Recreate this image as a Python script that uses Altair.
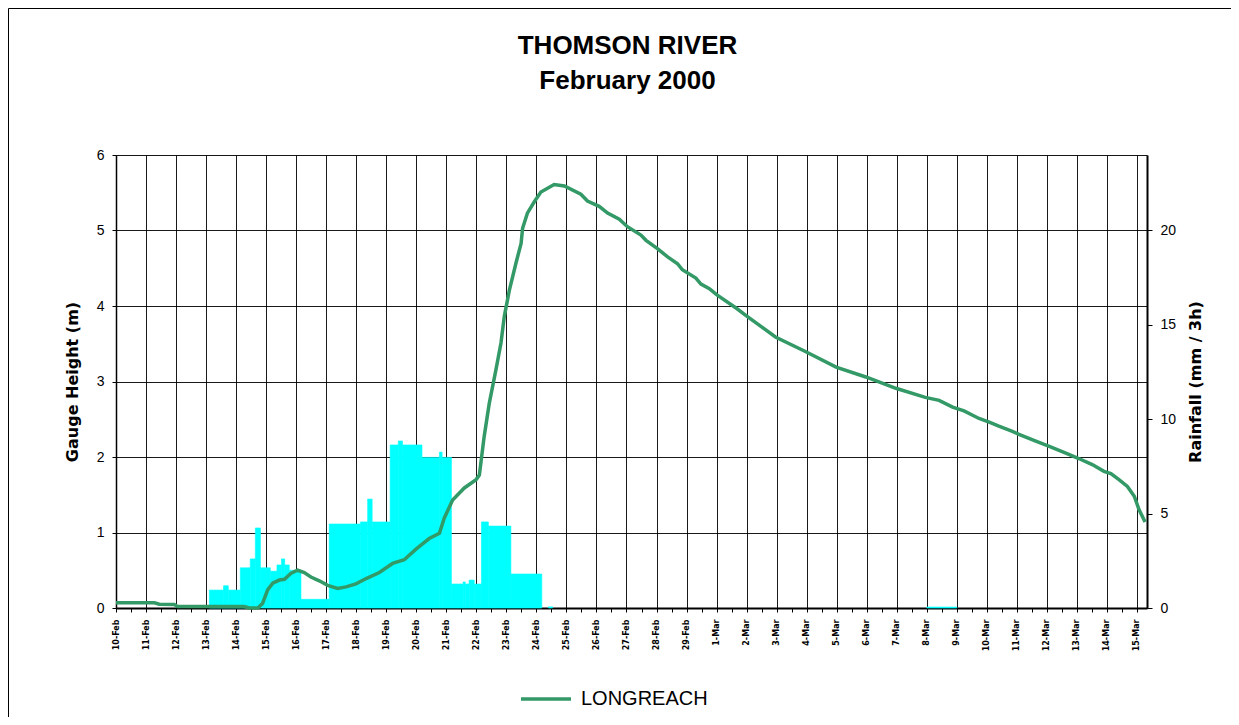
import altair as alt
import pandas as pd

# ---------------- data ----------------
# gauge height at LONGREACH: time in days after 10-Feb-2000 00:00, height in m
line_days = [0.0, 1.28, 1.44, 1.94, 2.05, 4.27, 4.44, 4.72, 4.88, 5.05, 5.22, 5.44,
             5.61, 5.83, 6.05, 6.27, 6.49, 6.77, 7.05, 7.38, 7.66, 7.99, 8.33, 8.77,
             9.21, 9.60, 9.99, 10.43, 10.77, 10.93, 11.21, 11.60, 11.99, 12.10, 12.26,
             12.43, 12.65, 12.82, 12.93, 13.10, 13.32, 13.49, 13.54, 13.70, 13.93, 14.15,
             14.59, 14.93, 15.48, 15.70, 16.09, 16.37, 16.76, 17.03, 17.48, 17.65, 18.03,
             18.37, 18.70, 18.86, 19.31, 19.48, 19.76, 20.00, 20.66, 20.96, 21.96, 22.94,
             23.98, 24.97, 25.97, 26.95, 27.41, 27.86, 28.24, 28.74, 29.10, 29.40, 29.85,
             30.07, 30.63, 31.08, 31.63, 32.06, 32.51, 32.90, 33.13, 33.40, 33.68, 33.91,
             34.07, 34.27]
line_height = [0.07, 0.07, 0.05, 0.045, 0.02, 0.02, 0.0, 0.0, 0.06, 0.24, 0.33, 0.37,
               0.38, 0.46, 0.50, 0.47, 0.41, 0.36, 0.30, 0.26, 0.28, 0.32, 0.39, 0.47,
               0.59, 0.64, 0.78, 0.92, 0.99, 1.19, 1.43, 1.59, 1.70, 1.76, 2.27,
               2.71, 3.15, 3.51, 3.86, 4.21, 4.57, 4.83, 5.03, 5.23, 5.38, 5.51,
               5.61, 5.59, 5.48, 5.39, 5.32, 5.23, 5.15, 5.05, 4.94, 4.87, 4.76,
               4.65, 4.56, 4.48, 4.37, 4.29, 4.23, 4.15, 3.97, 3.88, 3.59, 3.40,
               3.19, 3.06, 2.91, 2.79, 2.75, 2.66, 2.61, 2.51, 2.46, 2.41, 2.34,
               2.30, 2.21, 2.14, 2.05, 1.98, 1.90, 1.81, 1.78, 1.70, 1.61, 1.48,
               1.30, 1.14]

# rainfall blocks: start / end (days after 10-Feb-2000), rainfall mm / 3h
rain_start = [3.11, 3.58, 3.74, 4.14, 4.47, 4.64, 4.81, 5.14, 5.36, 5.51, 5.62, 5.77,
              6.16, 7.10, 8.14, 8.38, 8.53, 9.13, 9.40, 9.54, 10.19, 10.77, 10.86,
              11.17, 11.56, 11.63, 11.76, 11.93, 12.17, 12.40, 13.15, 14.40, 27.0]
rain_end = [3.58, 3.74, 4.14, 4.47, 4.64, 4.81, 5.14, 5.36, 5.51, 5.62, 5.77, 6.16,
            7.10, 8.14, 8.38, 8.53, 9.13, 9.40, 9.54, 10.19, 10.77, 10.86, 11.17,
            11.56, 11.63, 11.76, 11.93, 12.17, 12.40, 13.15, 14.18, 14.54, 28.0]
rain_mm = [0.95, 1.18, 0.95, 2.13, 2.6, 4.24, 2.13, 1.95, 2.28, 2.6, 2.28, 2.0,
           0.46, 4.45, 4.56, 5.77, 4.56, 8.64, 8.85, 8.64, 7.98, 8.26, 7.98,
           1.27, 1.38, 1.27, 1.48, 1.27, 4.56, 4.34, 1.8, 0.06, 0.05]

series_name = "LONGREACH"
title_lines = ["THOMSON RIVER", "February 2000"]

# ---------------- tables ----------------
BASE = pd.Timestamp("2000-02-10T00:00:00", tz="UTC")


def iso(d):
    return (BASE + pd.to_timedelta(d, unit="D")).strftime("%Y-%m-%dT%H:%M:%SZ")


line_df = pd.DataFrame({
    "time": [iso(d) for d in line_days],
    "height": line_height,
    "series": series_name,
})
rain_df = pd.DataFrame({
    "start": [iso(d) for d in rain_start],
    "end": [iso(d) for d in rain_end],
    "mm": rain_mm,
})

base_ms = int(BASE.value // 1_000_000)
tick_values = [base_ms + i * 43_200_000 for i in range(69)]  # every 12 hours

x_scale = alt.Scale(
    type="utc",
    domain=[alt.DateTime(year=2000, month=2, date=10, utc=True),
            alt.DateTime(year=2000, month=3, date=15, hours=8, utc=True)],
)
x_axis = alt.Axis(
    values=tick_values,
    labelExpr="utchours(datum.value) == 0 ? utcFormat(datum.value, '%-d-%b') : ''",
    labelAngle=270, labelAlign="right", labelBaseline="middle",
    labelFont="DejaVu Sans", labelFontWeight="bold", labelFontSize=8,
    labelColor="black", labelPadding=7, labelOverlap=False, labelBound=False,
    labelFlush=False,
    tickSize=4, tickColor="black", domainColor="black", domainWidth=2,
    grid=True, gridColor="black", gridWidth=1,
    gridOpacity={"condition": {"test": "utchours(datum.value) != 0", "value": 0}, "value": 0.9},
    title=None, zindex=0,
)

bars = alt.Chart(rain_df).mark_rect(color="#00FFFF", stroke="#00FFFF", strokeWidth=0.6).encode(
    x=alt.X("start:T", scale=x_scale, axis=x_axis),
    x2="end:T",
    y=alt.Y("mm:Q",
            scale=alt.Scale(domain=[0, 24], nice=False),
            axis=alt.Axis(orient="right", values=[0, 5, 10, 15, 20], grid=False,
                          title="Rainfall (mm / 3h)", titleAngle=270, titleBaseline="top",
                          titleFont="DejaVu Sans", titleFontSize=16, titleFontWeight="bold",
                          titleColor="black", titlePadding=12,
                          labelFont="Liberation Sans", labelFontSize=14, labelColor="black",
                          labelPadding=8, tickSize=5, tickColor="black",
                          domainColor="black", domainWidth=2, zindex=0)),
    y2=alt.Y2(datum=0),
)

line = alt.Chart(line_df).mark_line(strokeWidth=3.5, interpolate="linear").encode(
    x=alt.X("time:T", scale=x_scale, axis=x_axis),
    y=alt.Y("height:Q",
            scale=alt.Scale(domain=[0, 6], nice=False),
            axis=alt.Axis(orient="left", values=[0, 1, 2, 3, 4, 5, 6],
                          title="Gauge Height (m)", titleFont="DejaVu Sans",
                          titleFontSize=16, titleFontWeight="bold", titleColor="black",
                          titlePadding=16,
                          labelFont="Liberation Sans", labelFontSize=14, labelColor="black",
                          labelPadding=8, tickSize=4, tickColor="black",
                          grid=True, gridColor="black", gridWidth=1, gridOpacity=0.9,
                          domainColor="black", domainWidth=1.5, zindex=0)),
    color=alt.Color("series:N",
                    scale=alt.Scale(domain=[series_name], range=["#339966"]),
                    legend=alt.Legend(title=None, orient="none", legendX=403, legendY=517,
                                      symbolType="stroke", symbolSize=2500,
                                      symbolStrokeWidth=3.5,
                                      labelFont="Liberation Sans", labelFontSize=20,
                                      labelColor="black", labelOffset=8, padding=0)),
)

# chart-area frame (top and left edges, as in the reference crop)
frame_src = alt.Chart(alt.Data(values=[{"k": 1}])).mark_rule(color="black", strokeWidth=1, clip=False)
frame_top = frame_src.encode(x=alt.value(-107.5), x2=alt.value(1115), y=alt.value(-146.5))
frame_left = frame_src.encode(x=alt.value(-107.5), y=alt.value(-146.5), y2=alt.value(562))

chart = alt.layer(bars, line, frame_top, frame_left).resolve_scale(
    y="independent"
).properties(
    width=1031,
    height=453,
    autosize=alt.AutoSizeParams(type="none"),
    padding={"left": 108, "top": 147, "right": 84, "bottom": 109},
    title=alt.TitleParams(text=title_lines, font="Liberation Sans", fontSize=26,
                          fontWeight="bold", color="black", lineHeight=35,
                          anchor="middle", offset=-86, dx=-4),
).configure_view(
    stroke="black", strokeWidth=1
).configure(background="white")

chart.save("out.html", embed_options={"renderer": "svg", "actions": False})
